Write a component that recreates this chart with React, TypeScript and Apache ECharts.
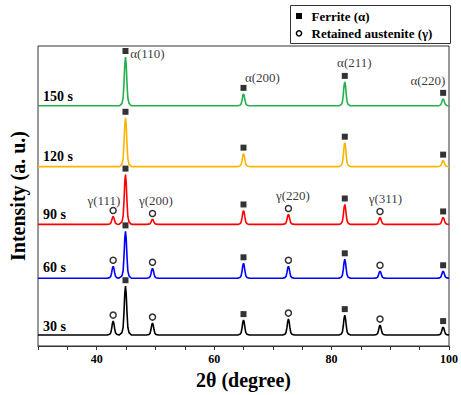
import React, { useEffect, useRef } from "react";
import * as echarts from "echarts";

// ---- data ----
const samples = ["30 s", "60 s", "90 s", "120 s", "150 s"];
const baselines = [11, 68, 122, 180, 241]; // vertical offsets of each stacked pattern
const alphaPos = [44.9, 65.0, 82.25, 99.0];
const gammaPos = [42.8, 49.5, 72.65, 88.25];
const alphaHeights = [
  [49, 15, 20, 8],
  [47, 15, 19, 7],
  [50, 14, 20, 7],
  [49, 13, 24, 6],
  [49, 12, 24, 7],
];
const gammaHeights = [
  [14, 12, 16, 10],
  [12, 10, 12, 7],
  [8, 5, 10, 7],
  [0, 0, 0, 0],
  [0, 0, 0, 0],
];
const alphaLabels = ["α(110)", "α(200)", "α(211)", "α(220)"];
const gammaLabels = ["γ(111)", "γ(200)", "γ(220)", "γ(311)"];
// peak profile read from the α(110) peak: offsets (deg) and relative heights
const shapeOffsets = [-1.0, -0.6, -0.4, -0.25, -0.12, 0, 0.12, 0.25, 0.4, 0.6, 1.0];
const shapeRel = [0, 0.05, 0.16, 0.48, 0.85, 1, 0.85, 0.48, 0.16, 0.05, 0];
const xRange = [30, 100];

// ---- styles ----
const colors = ["#000000", "#0000ff", "#ff0000", "#ffb400", "#22b14c"];
const alphaLabelOffsets = [
  [4.7, 3],
  [1.4, -10.6],
  [-7.7, -13.3],
  [-32.7, -12.7],
];
const gammaLabelOffsets = [
  [-25, -9],
  [-12.7, -12.3],
  [-11.7, -12.6],
  [-10.6, -12],
];
const sampleLabelY = [326, 267, 214, 156, 96];
const FONT = "'Liberation Serif', 'Times New Roman', serif";

function buildLine(i: number): number[][] {
  const base = baselines[i];
  const peaks: { x: number; h: number }[] = [];
  alphaPos.forEach((p, k) => peaks.push({ x: p, h: alphaHeights[i][k] }));
  gammaPos.forEach((p, k) => {
    if (gammaHeights[i][k] > 0) peaks.push({ x: p, h: gammaHeights[i][k] });
  });
  peaks.sort((a, b) => a.x - b.x);
  const pts: number[][] = [[xRange[0], base]];
  peaks.forEach((pk) => {
    shapeOffsets.forEach((o, j) => {
      const x = pk.x + o;
      if (x > xRange[0] && x < xRange[1]) pts.push([x, base + pk.h * shapeRel[j]]);
    });
  });
  pts.push([xRange[1], base]);
  return pts;
}

export default function App() {
  const ref = useRef<HTMLDivElement>(null);
  useEffect(() => {
    if (!ref.current) return;
    const chart = echarts.init(ref.current, undefined, { renderer: "svg" });
    const series: any[] = [];
    samples.forEach((s, i) => {
      series.push({
        type: "line",
        name: s,
        data: buildLine(i),
        showSymbol: false,
        lineStyle: { color: colors[i], width: 1.6 },
        itemStyle: { color: colors[i] },
        z: 2,
      });
    });
    const squares: any[] = [];
    const circles: any[] = [];
    samples.forEach((s, i) => {
      alphaPos.forEach((p, k) => {
        const item: any = { value: [p, baselines[i] + alphaHeights[i][k] + 6] };
        if (i === 4) {
          item.label = {
            show: true,
            formatter: alphaLabels[k],
            position: [alphaLabelOffsets[k][0] + 3, alphaLabelOffsets[k][1] + 3],
            align: "left",
            verticalAlign: "middle",
            fontFamily: FONT,
            fontSize: 13,
            color: "#000",
          };
        }
        squares.push(item);
      });
      gammaPos.forEach((p, k) => {
        if (gammaHeights[i][k] <= 0) return;
        const item: any = { value: [p, baselines[i] + gammaHeights[i][k] + 6] };
        if (i === 2) {
          item.label = {
            show: true,
            formatter: gammaLabels[k],
            position: [gammaLabelOffsets[k][0] + 3, gammaLabelOffsets[k][1] + 3],
            align: "left",
            verticalAlign: "middle",
            fontFamily: FONT,
            fontSize: 13,
            color: "#000",
          };
        }
        circles.push(item);
      });
    });
    series.push({
      type: "scatter",
      symbol: "rect",
      symbolSize: 6,
      itemStyle: { color: "#000" },
      data: squares,
      z: 3,
    });
    series.push({
      type: "scatter",
      symbol: "circle",
      symbolSize: 6,
      itemStyle: { color: "#fff", borderColor: "#000", borderWidth: 1.5 },
      data: circles,
      z: 3,
    });

    const graphic: any[] = [
      {
        type: "rect",
        shape: { x: 290.5, y: 5.5, width: 160, height: 38 },
        style: { fill: "#fff", stroke: "#333", lineWidth: 1 },
      },
      {
        type: "rect",
        shape: { x: 296, y: 13, width: 6, height: 6 },
        style: { fill: "#000" },
      },
      {
        type: "circle",
        shape: { cx: 299, cy: 33.3, r: 2.6 },
        style: { fill: "#fff", stroke: "#000", lineWidth: 1.5 },
      },
      {
        type: "text",
        x: 311.5,
        y: 16,
        style: {
          text: "Ferrite (α)",
          font: `bold 13px ${FONT}`,
          fill: "#000",
          textAlign: "left",
          textVerticalAlign: "middle",
        },
      },
      {
        type: "text",
        x: 311.5,
        y: 33.5,
        style: {
          text: "Retained austenite (γ)",
          font: `bold 13px ${FONT}`,
          fill: "#000",
          textAlign: "left",
          textVerticalAlign: "middle",
        },
      },
      {
        type: "text",
        x: 18,
        y: 196,
        rotation: Math.PI / 2,
        style: {
          text: "Intensity (a. u.)",
          font: `bold 20px ${FONT}`,
          fill: "#000",
          textAlign: "center",
          textVerticalAlign: "middle",
        },
      },
    ];
    samples.forEach((s, i) => {
      graphic.push({
        type: "text",
        x: 43,
        y: sampleLabelY[i],
        style: {
          text: s,
          font: `bold 14px ${FONT}`,
          fill: "#000",
          textAlign: "left",
          textVerticalAlign: "middle",
        },
      });
    });

    chart.setOption({
      animation: false,
      backgroundColor: "#fff",
      grid: {
        left: 38,
        right: 10,
        top: 46,
        bottom: 48,
        show: true,
        borderColor: "#333",
        borderWidth: 1,
      },
      xAxis: {
        type: "value",
        min: xRange[0],
        max: xRange[1],
        interval: 5,
        name: "2θ (degree)",
        nameLocation: "middle",
        nameGap: 24,
        nameTextStyle: { fontFamily: FONT, fontSize: 20, fontWeight: "bold", color: "#000" },
        axisLine: { lineStyle: { color: "#333", width: 1 } },
        axisTick: { show: true, inside: false, length: 4, lineStyle: { color: "#333" } },
        axisLabel: {
          fontFamily: FONT,
          fontSize: 12,
          fontWeight: "bold",
          color: "#000",
          margin: 7,
          formatter: (v: number) => (v >= 40 && v % 20 === 0 ? String(v) : ""),
        },
        splitLine: { show: false },
      },
      yAxis: {
        type: "value",
        min: 0,
        max: 301,
        show: false,
      },
      graphic,
      series,
    });
    return () => chart.dispose();
  }, []);
  return (
    <div
      ref={ref}
      style={{ position: "fixed", left: 0, top: 0, width: 461, height: 395 }}
    />
  );
}
